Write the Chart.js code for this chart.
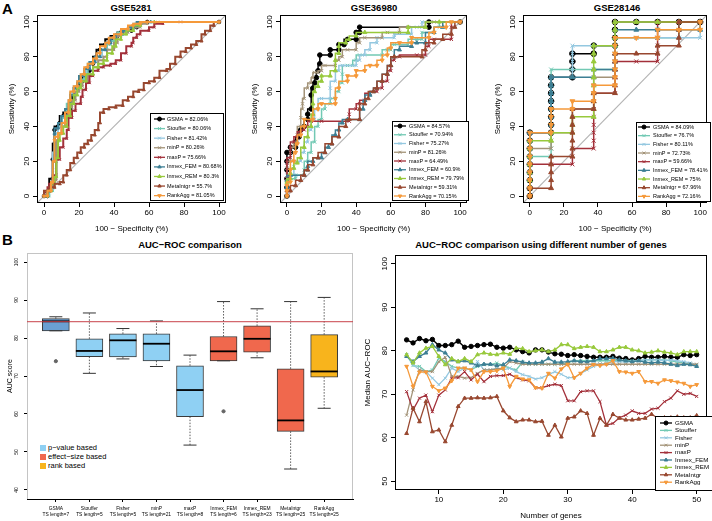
<!DOCTYPE html>
<html>
<head>
<meta charset="utf-8">
<script src="https://cdn.jsdelivr.net/npm/chart.js@4.4.1/dist/chart.umd.min.js"></script>
<style>
  body { margin: 0; background: #fff; }
  #fig { position: relative; width: 712px; height: 521px; overflow: hidden; font-family: "Liberation Sans", Arial, sans-serif; }
  canvas { position: absolute; }
  .t { position: absolute; white-space: nowrap; color: #000; line-height: 10px; }
  .c { transform: translateX(-50%); font-weight: bold; font-size: 9.5px; }
  .lg { position: absolute; font-size: 7.5px; line-height: 9px; }
  .lg i { display: inline-block; width: 6px; height: 6px; margin-right: 2px; vertical-align: -0.5px; }
</style>
</head>
<body>
<div id="fig">
  <div class="t" style="left:2px;top:1px;font-weight:bold;font-size:15px;line-height:15px">A</div>
  <div class="t" style="left:2px;top:232px;font-weight:bold;font-size:15px;line-height:15px">B</div>
  <div class="t c" style="left:131px;top:3px">GSE5281</div>
  <div class="t c" style="left:374px;top:3px">GSE36980</div>
  <div class="t c" style="left:617px;top:3px">GSE28146</div>
  <div class="t c" style="left:190px;top:240px">AUC−ROC comparison</div>
  <div class="t c" style="left:541px;top:240px">AUC−ROC comparison using different number of genes</div>
  <div class="lg" style="left:40px;top:443px">
    <div><i style="background:#8fd0f3"></i>p−value based</div>
    <div><i style="background:#f0684d"></i>effect−size based</div>
    <div><i style="background:#f8b41c"></i>rank based</div>
  </div>
</div>
<script>
const FONT = "'Liberation Sans', Arial, sans-serif";

const methods = ["GSMA", "Stouffer", "Fisher", "minP", "maxP", "Inmex_FEM", "Inmex_REM", "MetaIntgr", "RankAgg"];
const colors = ["#000000", "#72c9b4", "#94c8e0", "#a39378", "#a3303a", "#3d7f94", "#98c93c", "#98472f", "#f5993a"];
const markers = ["circle", "crossRot", "crossRot", "crossRot", "crossRot", "triangle", "triangle", "triangle", "triangle"];
const markerRot = [0, 0, 0, 0, 0, 0, 0, 0, 180];

// panel A: AUC text in the legends
const auc5281 = ["82.06%", "80.06%", "81.42%", "80.26%", "75.66%", "80.68%", "80.3%", "55.7%", "81.05%"];
const auc36980 = ["84.57%", "70.94%", "75.27%", "81.26%", "64.49%", "60.9%", "79.79%", "59.31%", "70.15%"];
const auc28146 = ["84.09%", "76.7%", "80.11%", "72.73%", "59.66%", "78.41%", "75%", "67.96%", "72.16%"];
const rocTicks = [0, 20, 40, 60, 80, 100];

// ROC curves, [100 - specificity, sensitivity]
const roc5281 = [
  [[0,0],[2,0],[3,3],[5,10],[5,21],[6,30],[6,38],[8,40],[9,42],[11,46],[13,48],[15,50],[16,54],[17,57],[19,62],[20,64],[22,66],[24,69],[26,72],[28,76],[30,80],[32,84],[35,87],[38,90],[42,92],[44,94],[50,95],[53,97],[55,99],[59,100],[100,100]],
  [[0,0],[3,0],[5,3],[6,8],[7,11],[7,20],[8,30],[8,36],[10,40],[12,45],[13,49],[15,53],[17,59],[19,62],[21,65],[23,67],[25,70],[28,76],[30,78],[33,80],[36,84],[38,87],[40,89],[42,92],[45,94],[48,95],[52,97],[55,99],[62,100],[100,100]],
  [[0,0],[2,0],[4,3],[5,8],[5,15],[6,25],[6,32],[8,36],[10,40],[12,46],[14,50],[15,55],[17,59],[19,63],[21,66],[24,70],[26,74],[30,77],[33,80],[35,84],[38,88],[41,91],[44,93],[48,95],[51,97],[53,99],[61,100],[100,100]],
  [[0,0],[2,0],[4,3],[6,6],[7,9],[7,20],[8,32],[10,36],[12,40],[14,45],[16,51],[18,55],[20,60],[22,63],[25,66],[28,70],[31,74],[34,78],[36,80],[40,84],[42,88],[44,92],[48,94],[51,95],[55,97],[59,99],[65,100],[100,100]],
  [[0,0],[2,2],[3,5],[5,7],[7,12],[9,21],[11,28],[13,33],[14,38],[16,45],[18,49],[21,53],[22,57],[24,61],[26,65],[28,69],[31,72],[34,74],[38,75],[41,76],[44,78],[47,82],[50,86],[51,88],[53,91],[55,93],[60,95],[63,97],[68,99],[78,100],[100,100]],
  [[0,0],[2,0],[4,3],[5,8],[6,20],[6,36],[8,39],[10,42],[12,46],[14,50],[15,53],[17,58],[19,62],[20,65],[23,69],[26,73],[29,77],[32,80],[35,84],[38,88],[41,91],[45,93],[48,95],[51,97],[53,98],[61,100],[100,100]],
  [[0,0],[2,0],[4,3],[6,7],[7,11],[8,22],[9,32],[11,36],[13,40],[15,46],[17,53],[19,58],[21,62],[24,66],[28,70],[31,74],[34,76],[36,78],[39,82],[41,86],[44,90],[47,93],[51,95],[55,98],[63,100],[100,100]],
  [[0,0],[3,3],[6,5],[9,7],[11,8],[13,12],[15,15],[17,19],[19,22],[21,25],[23,28],[25,30],[27,32],[29,35],[31,38],[32,42],[34,48],[37,50],[41,51],[45,52],[48,55],[51,57],[54,60],[57,61],[60,65],[63,66],[66,68],[70,72],[72,73],[75,76],[78,80],[81,83],[84,85],[87,87],[90,89],[92,93],[95,95],[97,98],[100,100]],
  [[0,0],[2,0],[4,3],[5,8],[6,20],[6,32],[8,34],[10,36],[12,42],[14,48],[15,55],[17,60],[19,63],[21,66],[23,70],[25,74],[28,76],[30,79],[32,82],[35,86],[37,88],[40,91],[44,93],[48,96],[51,98],[55,99],[59,100],[100,100]]
];

const roc36980 = [
  [[0,0],[0,5],[0,10],[0,15],[0,20],[0,25],[2,25],[2,28],[5,28],[5,31],[7,34],[8,38],[10,40],[12,44],[12,47],[14,50],[14,58],[15,62],[16,65],[17,68],[18,72],[19,76],[19,81],[25,81],[25,84],[30,84],[30,87],[33,87],[35,90],[40,90],[40,94],[42,94],[42,97],[82,97],[82,100],[100,100]],
  [[0,0],[0,6],[0,10],[5,10],[5,12],[10,12],[10,15],[12,20],[14,25],[16,31],[18,40],[20,44],[22,50],[25,53],[28,56],[30,60],[32,65],[32,70],[35,75],[38,75],[40,78],[42,81],[55,81],[58,84],[60,84],[62,87],[70,87],[75,90],[78,90],[78,94],[85,94],[88,97],[95,100],[100,100]],
  [[0,0],[0,8],[0,12],[4,12],[4,17],[8,20],[10,25],[12,31],[14,38],[16,44],[18,50],[20,56],[25,56],[25,62],[28,66],[30,72],[32,75],[40,75],[42,78],[45,81],[48,84],[52,88],[52,91],[62,91],[62,93],[72,93],[75,97],[78,97],[78,100],[100,100]],
  [[0,0],[0,10],[0,16],[2,20],[2,25],[4,28],[6,31],[6,35],[8,40],[8,45],[9,50],[9,53],[10,56],[12,62],[14,65],[15,68],[16,71],[18,71],[20,72],[22,75],[28,75],[30,78],[32,80],[35,84],[40,84],[42,88],[45,91],[55,91],[58,94],[65,94],[70,97],[80,97],[85,100],[100,100]],
  [[0,0],[0,10],[0,19],[2,22],[2,28],[4,31],[6,34],[8,37],[10,38],[12,40],[14,43],[20,43],[36,43],[36,47],[40,50],[42,53],[45,55],[48,59],[52,60],[55,62],[58,66],[60,72],[62,78],[65,80],[75,81],[80,81],[82,86],[85,90],[95,90],[95,97],[100,100]],
  [[0,0],[0,5],[0,9],[2,12],[10,12],[12,15],[12,17],[15,20],[18,22],[20,22],[22,25],[24,28],[26,30],[28,35],[30,38],[32,42],[35,44],[42,44],[44,50],[45,55],[48,58],[50,60],[52,62],[55,66],[58,70],[60,75],[62,80],[65,84],[72,86],[75,88],[80,88],[85,94],[90,97],[100,100]],
  [[0,0],[0,8],[2,10],[2,13],[4,16],[6,19],[8,22],[10,28],[12,34],[14,40],[15,47],[15,53],[16,60],[18,63],[20,66],[20,69],[25,69],[28,72],[28,78],[30,82],[30,86],[34,88],[36,90],[40,92],[45,94],[70,94],[70,97],[80,97],[88,100],[100,100]],
  [[0,0],[0,3],[2,3],[5,6],[8,9],[10,12],[12,15],[15,18],[18,22],[22,25],[26,30],[30,34],[34,40],[36,44],[42,44],[42,50],[45,53],[47,56],[50,60],[52,62],[55,66],[58,70],[60,75],[62,80],[78,80],[80,84],[85,88],[90,90],[95,93],[97,97],[100,100]],
  [[0,0],[0,3],[0,6],[2,8],[2,15],[4,20],[5,25],[6,30],[8,35],[10,40],[10,44],[15,44],[18,50],[20,53],[28,53],[28,56],[30,62],[35,66],[35,69],[40,69],[40,72],[45,72],[48,75],[52,75],[55,78],[58,81],[60,85],[65,88],[72,88],[72,91],[82,91],[85,94],[92,97],[95,100],[100,100]]
];

// GSE28146: columns of [100 - specificity, [sensitivities read along that column]]
const roc28146 = [
  [[0,[0,4.5,9.1,13.6,18.2,22.7,27.3,31.8,36.4]],[12.5,[36.4,40.9,45.5,50,54.5,59.1,63.6,68.2]],[25,[68.2,72.7,77.3,81.8]],[37.5,[81.8,86.4]],[50,[86.4,90.9,95.5,100]],[62.5,[100]],[75,[100]],[87.5,[100]],[100,[100]]],
  [[0,[0,4.5,9.1,13.6,18.2,22.7]],[12.5,[22.7,27.3,31.8,36.4,40.9,45.5,50,54.5,59.1,63.6,68.2,72.7]],[25,[72.7]],[37.5,[72.7]],[50,[72.7,77.3,81.8,86.4,90.9]],[62.5,[90.9]],[75,[90.9]],[87.5,[90.9,95.5,100]],[100,[100]]],
  [[0,[0,4.5,9.1,13.6,18.2,22.7,27.3,31.8,36.4]],[12.5,[36.4,40.9,45.5,50,54.5,59.1,63.6,68.2]],[25,[68.2,72.7,77.3,81.8,86.4]],[37.5,[86.4]],[50,[86.4,90.9]],[62.5,[90.9]],[75,[90.9]],[87.5,[90.9]],[100,[90.9,95.5,100]]],
  [[0,[0,4.5,9.1,13.6,18.2,22.7,27.3]],[12.5,[27.3,31.8,36.4]],[25,[36.4,40.9,45.5,50]],[37.5,[50,54.5,59.1,63.6,68.2]],[50,[68.2,72.7,77.3,81.8,86.4,90.9,95.5,100]],[62.5,[100]],[75,[100]],[87.5,[100]],[100,[100]]],
  [[0,[0,4.5,9.1,13.6,18.2]],[12.5,[18.2]],[25,[18.2,22.7,27.3]],[37.5,[27.3,31.8,36.4,40.9,45.5,50,54.5,59.1]],[50,[59.1,63.6,68.2,72.7,77.3]],[62.5,[77.3]],[75,[77.3,81.8,86.4,90.9,95.5,100]],[87.5,[100]],[100,[100]]],
  [[0,[0,4.5,9.1,13.6,18.2,22.7,27.3,31.8,36.4]],[12.5,[36.4,40.9,45.5,50,54.5,59.1,63.6,68.2]],[25,[68.2]],[37.5,[68.2,72.7]],[50,[72.7,77.3,81.8,86.4,90.9,95.5]],[62.5,[95.5]],[75,[95.5]],[87.5,[95.5]],[100,[95.5,100]]],
  [[0,[0,4.5,9.1,13.6,18.2,22.7,27.3,31.8]],[12.5,[31.8,36.4]],[25,[36.4,40.9,45.5]],[37.5,[45.5,50,54.5,59.1,63.6,68.2,72.7,77.3,81.8,86.4]],[50,[86.4,90.9,95.5,100]],[62.5,[100]],[75,[100]],[87.5,[100]],[100,[100]]],
  [[0,[0,4.5]],[12.5,[4.5,9.1,13.6,18.2,22.7]],[25,[22.7,27.3,31.8,36.4,40.9,45.5,50]],[37.5,[50,54.5,59.1]],[50,[59.1,63.6,68.2,72.7,77.3,81.8]],[62.5,[81.8]],[75,[81.8,86.4]],[87.5,[86.4,90.9,95.5,100]],[100,[100]]],
  [[0,[0,4.5,9.1,13.6,18.2,22.7,27.3,31.8,36.4]],[12.5,[36.4,40.9,45.5,50]],[25,[50,54.5]],[37.5,[54.5,59.1,63.6]],[50,[63.6,68.2,72.7,77.3,81.8,86.4,90.9]],[62.5,[90.9]],[75,[90.9,95.5]],[87.5,[95.5]],[100,[95.5,100]]]
];

// panel B left: boxplots of AUC score
const tsLength = [7, 5, 5, 21, 8, 6, 23, 25, 25];
const boxLow = [81.9, 70.7, 74.5, 72.5, 51.8, 74.0, 74.8, 45.5, 61.5];
const boxQ1 = [81.9, 75.1, 75.0, 74.0, 59.3, 74.0, 76.3, 55.4, 69.7];
const boxMed = [84.4, 76.6, 79.4, 78.5, 66.3, 76.5, 79.8, 58.3, 71.2];
const boxQ3 = [85.1, 79.8, 81.1, 81.1, 72.7, 80.4, 83.2, 71.9, 80.9];
const boxHigh = [85.6, 86.6, 82.5, 84.5, 75.5, 89.6, 87.7, 89.6, 90.7];
const outliers = [[1, 73.9], [6, 60.7]];
const boxColors = ["#6a9fd2", "#8fd0f3", "#8fd0f3", "#8fd0f3", "#8fd0f3", "#f0684d", "#f0684d", "#f0684d", "#f8b41c"];
const refLine = 84.3;
const boxTicks = [40, 50, 60, 70, 80, 90, 100];

// panel B right: median AUC-ROC by number of genes
const genes = [5,6,7,8,9,10,11,12,13,14,15,16,17,18,19,20,21,22,23,24,25,26,27,28,29,30,31,32,33,34,35,36,37,38,39,40,41,42,43,44,45,46,47,48,49,50];
const medGSMA = [82.5,81.8,82.8,82.3,82.6,81.2,81.2,81.4,82.2,80.8,81.0,81.2,81.4,81.5,80.8,80.6,80.8,80.2,79.8,79.5,80.2,80.2,79.7,79.3,79.2,78.9,79.1,78.9,78.7,78.5,78.5,78.5,78.7,78.3,78.2,77.9,78.2,78.7,78.5,78.5,78.7,78.5,78.5,79.1,78.9,79.1];
const medStouffer = [79.1,76.6,76.4,75.2,75.6,78.3,77.5,76.4,76.0,76.0,75.6,76.4,76.8,76.8,77.2,76.6,76.0,75.6,77.4,76.9,76.9,76.9,76.9,76.9,76.9,77.2,77.7,77.7,77.7,77.7,77.7,77.7,77.7,77.7,77.7,77.7,77.7,77.9,77.9,77.9,77.9,77.7,77.4,77.2,76.9,76.6];
const medFisher = [79.1,76.8,75.6,75.2,73.7,72.2,73.7,76.0,75.2,76.0,75.6,77.5,75.6,75.6,76.0,75.6,76.0,75.2,74.5,74.1,73.5,73.8,74.5,75.2,74.6,73.8,73.8,74.8,75.6,76.4,76.8,77.2,77.5,77.5,77.4,77.5,77.7,77.9,77.9,77.9,77.7,77.9,77.7,77.5,77.2,76.8];
const medMinP = [65.2,71.0,75.6,75.2,75.2,77.5,78.5,74.1,74.1,73.7,73.8,74.8,75.6,75.6,75.8,76.0,77.5,77.2,76.9,76.9,76.9,76.9,76.9,76.9,76.9,76.9,76.9,76.9,76.9,76.9,76.9,76.9,76.9,76.9,76.9,76.9,76.9,76.9,76.9,76.9,76.9,76.9,76.9,76.9,76.9,76.9];
const medMaxP = [70.6,66.4,69.1,69.8,66.0,69.8,71.0,73.7,73.8,75.2,73.3,74.6,72.9,74.1,74.3,74.3,74.6,73.8,73.3,73.1,71.5,71.5,72.0,72.3,72.0,68.5,68.5,70.6,70.8,70.8,68.3,62.9,63.3,64.6,65.2,66.2,65.6,65.6,66.6,66.8,68.3,69.1,70.8,70.0,70.2,69.5];
const medFEM = [78.7,77.5,78.7,79.5,81.4,80.2,79.5,77.9,77.5,77.7,77.2,76.6,76.9,76.9,76.6,76.8,77.9,77.7,77.4,77.2,77.2,77.4,78.2,77.4,77.4,77.5,77.7,77.5,77.5,77.7,78.2,78.2,78.3,77.9,77.7,77.5,77.7,77.4,77.2,77.4,77.2,76.9,76.6,76.9,76.8,76.4];
const medREM = [79.1,77.2,79.5,80.6,81.0,78.7,76.8,78.2,77.5,78.2,77.5,79.1,79.5,79.2,79.1,79.5,79.2,80.6,80.5,79.8,80.0,80.2,79.8,80.2,81.4,81.4,80.5,80.8,81.0,80.8,79.8,79.8,80.2,80.8,80.8,80.2,80.0,79.5,79.7,80.0,79.7,79.5,79.1,79.8,79.8,79.8];
const medMetaIntgr = [61.0,66.8,63.7,68.3,61.4,61.8,59.1,62.9,67.2,69.1,69.1,69.2,69.1,69.2,69.5,66.2,64.6,63.7,64.1,64.1,63.7,63.8,60.6,62.9,60.2,64.5,64.8,66.2,65.6,60.6,64.5,62.9,65.4,64.5,64.1,64.1,64.3,64.5,65.4,64.5,64.6,64.6,64.8,64.6,64.6,65.1];
const medRankAgg = [76.4,71.8,75.1,75.1,71.8,70.8,71.4,73.1,76.0,76.0,75.6,72.9,75.2,75.2,75.4,76.0,71.8,74.1,73.5,73.3,71.5,71.4,74.8,73.7,75.8,76.9,73.8,74.8,76.0,76.8,76.6,76.9,77.7,75.2,75.1,74.8,75.2,72.9,72.9,72.5,73.3,73.1,72.8,72.5,71.8,72.2];
const medSeries = [medGSMA, medStouffer, medFisher, medMinP, medMaxP, medFEM, medREM, medMetaIntgr, medRankAgg];
const geneTicks = [10, 20, 30, 40, 50];
const medTicks = [50, 60, 70, 80, 90, 100];

Chart.defaults.font.family = FONT;
Chart.defaults.color = "#000";

// R style y tick labels, turned 90 degrees
const rotTicks = {
  id: "rotTicks",
  afterDraw(chart, args, o) {
    if (!o || !o.offset) return;
    const s = chart.scales.y, ctx = chart.ctx;
    ctx.save();
    ctx.font = o.size + "px " + FONT;
    ctx.fillStyle = "#000";
    ctx.textAlign = "center";
    ctx.textBaseline = "middle";
    s.ticks.forEach(t => {
      ctx.save();
      ctx.translate(chart.chartArea.left - o.offset, s.getPixelForValue(t.value));
      ctx.rotate(-Math.PI / 2);
      ctx.fillText(t.label != null ? t.label : String(t.value), 0, 0);
      ctx.restore();
    });
    ctx.restore();
  }
};

const frame = {
  id: "frame",
  afterDatasetsDraw(chart, args, o) {
    if (!o || !o.color) return;
    const { left, top, right, bottom } = chart.chartArea;
    const ctx = chart.ctx, sides = o.sides || "tlrb";
    ctx.save();
    ctx.strokeStyle = o.color;
    ctx.lineWidth = 1;
    ctx.beginPath();
    if (sides.includes("t")) { ctx.moveTo(left, top + 0.5); ctx.lineTo(right, top + 0.5); }
    if (sides.includes("b")) { ctx.moveTo(left, bottom - 0.5); ctx.lineTo(right, bottom - 0.5); }
    if (sides.includes("l")) { ctx.moveTo(left + 0.5, top); ctx.lineTo(left + 0.5, bottom); }
    if (sides.includes("r")) { ctx.moveTo(right - 0.5, top); ctx.lineTo(right - 0.5, bottom); }
    ctx.stroke();
    ctx.restore();
  }
};

const insetLegend = {
  id: "insetLegend",
  afterDraw(chart, args, o) {
    if (!o || !o.labels) return;
    const ctx = chart.ctx;
    ctx.save();
    ctx.fillStyle = "#fff";
    ctx.fillRect(o.x, o.y, o.w, o.h);
    ctx.strokeStyle = "#000";
    ctx.lineWidth = 1;
    ctx.strokeRect(o.x + 0.5, o.y + 0.5, o.w, o.h);
    ctx.font = o.size + "px " + FONT;
    ctx.textBaseline = "middle";
    for (let i = 0; i < o.labels.length; i++) {
      const ds = chart.data.datasets[i];
      const cy = o.first + i * o.row;
      ctx.strokeStyle = ds.borderColor;
      ctx.fillStyle = ds.borderColor;
      ctx.lineWidth = 1.3;
      ctx.beginPath();
      ctx.moveTo(o.l0, cy);
      ctx.lineTo(o.l1, cy);
      ctx.stroke();
      ctx.lineWidth = 1;
      Chart.helpers.drawPoint(ctx, { pointStyle: ds.pointStyle, rotation: ds.pointRotation || 0, radius: o.r, borderWidth: 1 }, (o.l0 + o.l1) / 2, cy);
      ctx.fillStyle = "#000";
      ctx.fillText(o.labels[i], o.tx, cy);
    }
    ctx.restore();
  }
};

// whiskers, caps, medians and the reference line of the boxplot
const boxExtras = {
  id: "boxExtras",
  afterDatasetsDraw(chart, args, o) {
    if (!o || !o.on) return;
    const x = chart.scales.x, y = chart.scales.y, ctx = chart.ctx;
    ctx.save();
    for (let i = 0; i < boxMed.length; i++) {
      const cx = x.getPixelForValue(i + 1);
      const yq1 = y.getPixelForValue(boxQ1[i]), yq3 = y.getPixelForValue(boxQ3[i]);
      const ylo = y.getPixelForValue(boxLow[i]), yhi = y.getPixelForValue(boxHigh[i]);
      ctx.strokeStyle = "#333";
      ctx.lineWidth = 0.8;
      ctx.setLineDash([1.5, 1.5]);
      ctx.beginPath();
      ctx.moveTo(cx, yq3); ctx.lineTo(cx, yhi);
      ctx.moveTo(cx, yq1); ctx.lineTo(cx, ylo);
      ctx.stroke();
      ctx.setLineDash([]);
      ctx.lineWidth = 1;
      ctx.beginPath();
      ctx.moveTo(cx - 6.5, yhi); ctx.lineTo(cx + 6.5, yhi);
      ctx.moveTo(cx - 6.5, ylo); ctx.lineTo(cx + 6.5, ylo);
      ctx.stroke();
      ctx.strokeStyle = "#000";
      ctx.lineWidth = 1.8;
      const ym = y.getPixelForValue(boxMed[i]);
      ctx.beginPath();
      ctx.moveTo(cx - 13.5, ym); ctx.lineTo(cx + 13.5, ym);
      ctx.stroke();
    }
    const yr = y.getPixelForValue(refLine);
    ctx.strokeStyle = "#c8424a";
    ctx.lineWidth = 1;
    ctx.beginPath();
    ctx.moveTo(chart.chartArea.left, yr);
    ctx.lineTo(chart.chartArea.right, yr);
    ctx.stroke();
    ctx.restore();
  }
};

Chart.register(rotTicks, frame, insetLegend, boxExtras);

function addCanvas(x, y, w, h) {
  const c = document.createElement("canvas");
  c.width = w; c.height = h;
  c.style.left = x + "px"; c.style.top = y + "px";
  c.style.width = w + "px"; c.style.height = h + "px";
  document.getElementById("fig").appendChild(c);
  return c;
}

function axis(o) {
  const ax = {
    type: "linear", min: o.min, max: o.max, offset: false,
    afterBuildTicks: s => { s.ticks = o.ticks.map(v => ({ value: v })); },
    afterFit: s => {
      if (o.w != null) s.width = o.w;
      if (o.h != null) s.height = o.h;
      s.paddingLeft = 0; s.paddingRight = 0; s.paddingTop = 0; s.paddingBottom = 0;
    },
    grid: { display: true, drawOnChartArea: false, drawTicks: true, tickLength: o.tl || 4, color: "#000", offset: false },
    border: { display: !!o.border, color: "#000" },
    ticks: { display: o.show !== false, autoSkip: false, maxRotation: 0, minRotation: 0, padding: o.pad || 1, color: "#000", font: { size: o.fs || 8 } },
    title: { display: !!o.title, text: o.title, color: "#000", font: { size: o.tfs || 8 }, padding: o.tpad || 0 }
  };
  if (o.cb) ax.ticks.callback = o.cb;
  return ax;
}

function series(i, pts, r, bw) {
  return {
    label: methods[i],
    data: pts,
    borderColor: colors[i], backgroundColor: colors[i],
    pointBackgroundColor: colors[i], pointBorderColor: colors[i],
    pointStyle: markers[i], pointRotation: markerRot[i],
    pointRadius: r, pointBorderWidth: 1, borderWidth: bw,
    order: methods.length - i, fill: false
  };
}

function rocChart(x0, w, yW, padR, curves, aucs, r, bw, yTitlePad, leg) {
  const ds = curves.map((c, i) => Object.assign(series(i, c.map(p => ({ x: p[0], y: p[1] })), r, bw), { stepped: "after" }));
  ds.push({ data: [{ x: -4, y: -4 }, { x: 104, y: 104 }], borderColor: "#b4b4b4", borderWidth: 1.2, pointRadius: 0, order: 100 });
  new Chart(addCanvas(x0, 0, w, 245), {
    type: "line",
    data: { datasets: ds },
    options: {
      responsive: false, animation: false, events: [],
      layout: { padding: { top: 15, right: padR, left: 0, bottom: 0 } },
      plugins: {
        legend: { display: false }, tooltip: { enabled: false },
        rotTicks: { offset: 10, size: 8 },
        frame: { color: "#000" },
        insetLegend: Object.assign({ labels: methods.map((m, i) => m + " = " + aucs[i]), size: 5.5, r: 2 }, leg)
      },
      scales: {
        x: axis({ min: -4, max: 104, ticks: rocTicks, h: 42, title: "100 − Specificity (%)", tpad: { top: 0, bottom: 11.2 } }),
        y: axis({ min: -4, max: 104, ticks: rocTicks, w: yW, show: false, title: "Sensitivity (%)", tpad: { top: yTitlePad, bottom: 0 } })
      }
    }
  });
}

const cols28146 = roc28146.map(c => {
  const pts = [];
  c.forEach(col => col[1].forEach(v => pts.push([col[0], v])));
  return pts;
});

rocChart(0, 236, 37, 10, roc5281, auc5281, 1.8, 2, 7.2,
  { x: 150, y: 113, w: 73, h: 87, first: 119, row: 9.58, l0: 154, l1: 165, tx: 167 });
rocChart(236, 236, 44, 4, roc36980, auc36980, 2.3, 1.5, 14.2,
  { x: 156, y: 121, w: 76, h: 79, first: 126, row: 8.75, l0: 158, l1: 170, tx: 173 });
rocChart(472, 240, 51, 2, cols28146, auc28146, 2.8, 1.5, 21.2,
  { x: 164, y: 122, w: 74, h: 79, first: 127, row: 8.67, l0: 166, l1: 178, tx: 181 });

// boxplot
new Chart(addCanvas(0, 245, 360, 276), {
  type: "bar",
  data: {
    datasets: [
      {
        type: "bar",
        data: boxQ1.map((q, i) => ({ x: i + 1, y: [q, boxQ3[i]] })),
        backgroundColor: boxColors, borderColor: "#3a3a3a", borderWidth: 1,
        borderSkipped: false, barThickness: 27, order: 2
      },
      {
        type: "scatter",
        data: outliers.map(p => ({ x: p[0], y: p[1] })),
        pointRadius: 1.6, pointBackgroundColor: "#666", pointBorderColor: "#666", order: 1
      }
    ]
  },
  options: {
    responsive: false, animation: false, events: [],
    layout: { padding: { top: 8, right: 7, left: 0, bottom: 0 } },
    plugins: {
      legend: { display: false }, tooltip: { enabled: false },
      rotTicks: { offset: 10, size: 5 },
      frame: { color: "#c4c4c4", sides: "tlr" },
      boxExtras: { on: true }
    },
    scales: {
      x: axis({ min: 0.14, max: 9.86, ticks: [1, 2, 3, 4, 5, 6, 7, 8, 9], h: 22, border: true, tl: 3, pad: 4, fs: 4.9,
        cb: v => [methods[v - 1], "TS length=" + tsLength[v - 1]] }),
      y: axis({ min: 37.6, max: 102.4, ticks: boxTicks, w: 27, tl: 3, show: false, title: "AUC score", tfs: 7, tpad: { top: 5.8, bottom: 0 } })
    }
  }
});

// median AUC-ROC lines
new Chart(addCanvas(360, 245, 352, 276), {
  type: "line",
  data: {
    datasets: medSeries.map((s, i) => series(i, s.map((v, k) => ({ x: genes[k], y: v })), 2.2, 1.3))
  },
  options: {
    responsive: false, animation: false, events: [],
    layout: { padding: { top: 10, right: 2, left: 0, bottom: 0 } },
    plugins: {
      legend: { display: false }, tooltip: { enabled: false },
      rotTicks: { offset: 10, size: 8 },
      frame: { color: "#000" },
      insetLegend: { labels: methods, size: 6.2, r: 2, x: 295, y: 171, w: 60, h: 74, first: 178, row: 7.4, l0: 300, l1: 312, tx: 315 }
    },
    scales: {
      x: axis({ min: 3.2, max: 51.6, ticks: geneTicks, h: 31, title: "Number of genes", tpad: { top: 0, bottom: 0 } }),
      y: axis({ min: 48, max: 102, ticks: medTicks, w: 35, show: false, title: "Median AUC−ROC", tpad: { top: 3.2, bottom: 0 } })
    }
  }
});
</script>
</body>
</html>
